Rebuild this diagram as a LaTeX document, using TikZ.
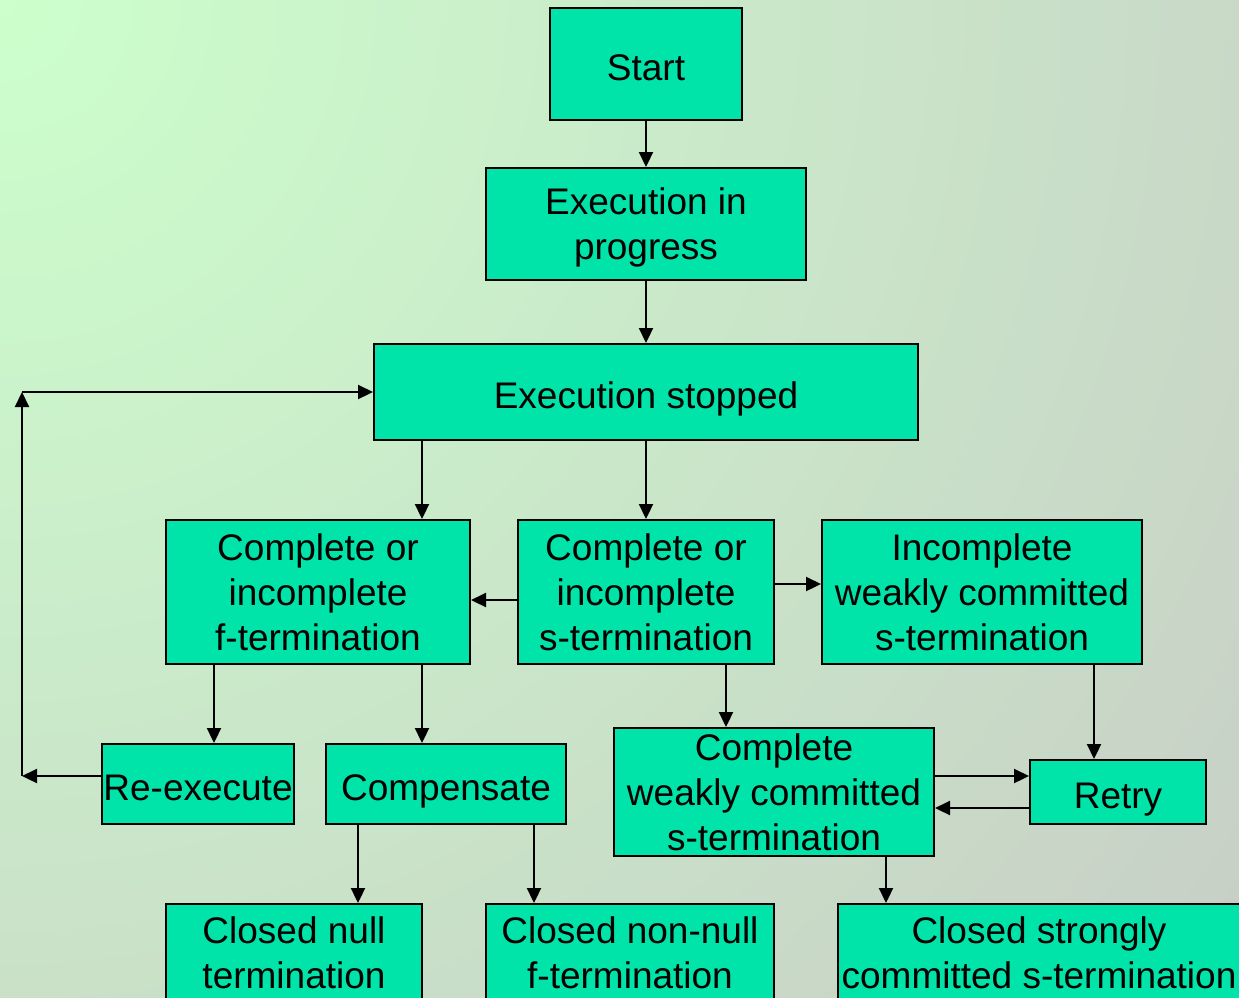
\documentclass[tikz,border=0pt]{standalone}
\usepackage{fontspec}
\setmainfont{Liberation Sans}
\usetikzlibrary{arrows.meta}

\definecolor{boxgreen}{HTML}{00E3A9}
\definecolor{bglight}{HTML}{CCFFCC}
\definecolor{bggray}{HTML}{C8CEC6}

\tikzset{
  state/.style={draw=black,line width=2pt,fill=boxgreen,inner sep=0pt,
    align=center,font=\fontsize{37}{45}\selectfont},
  oneline/.style={text height=33pt,text depth=0pt},
  link/.style={line width=2.2pt,-{Triangle[length=15pt,width=14pt]}}
}

\begin{document}
\begin{tikzpicture}[x=1pt,y=-1pt]

\useasboundingbox (0,0) rectangle (1239,997);
\begin{scope}
	\clip (0,0) rectangle (1239,997);
	\shade[inner color=bglight,outer color=bggray] (0,0) circle (1600);
\end{scope}

	% states
	\node[state,oneline,minimum width=192pt,minimum height=112pt] (start) at (646,64) {Start};
	\node[state,text depth=0pt,minimum width=320pt,minimum height=112pt] (run) at (646,224) {Execution in\\progress};
	\node[state,oneline,minimum width=544pt,minimum height=96pt] (stop) at (646,392) {Execution stopped};
	\node[state,minimum width=304pt,minimum height=144pt] (fterm) at (318,592) {Complete or\\incomplete\\f-termination};
	\node[state,minimum width=256pt,minimum height=144pt] (sterm) at (646,592) {Complete or\\incomplete\\s-termination};
	\node[state,minimum width=320pt,minimum height=144pt] (weak) at (982,592) {Incomplete\\weakly committed\\s-termination};
	\node[state,oneline,minimum width=192pt,minimum height=80pt] (reexec) at (198,784) {Re-execute};
	\node[state,oneline,minimum width=240pt,minimum height=80pt] (comp) at (446,784) {Compensate};
	\node[state,minimum width=320pt,minimum height=128pt] (cweak) at (774,792) {Complete\\weakly committed\\s-termination};
	\node[state,oneline,minimum width=176pt,minimum height=64pt] (retry) at (1118,792) {Retry};
	\node[state,minimum width=256pt,minimum height=98pt] (nullend) at (294,953) {Closed null\\termination};
	\node[state,minimum width=288pt,minimum height=98pt] (nonnull) at (630,953) {Closed non-null\\f-termination};
	\node[state,minimum width=402pt,minimum height=98pt] (strong) at (1039,953) {Closed strongly\\committed s-termination};

	\coordinate (loopa) at (22,776);
	\coordinate (loopb) at (22,392);

	% transitions
	\draw[link] (start.south) -- (run.north);
	\draw[link] (run.south) -- (stop.north);
	\draw[link] ([xshift=-224pt]stop.south) -- ([xshift=-224pt]stop.south |- fterm.north);
	\draw[link] (stop.south) -- (sterm.north);
	\draw[link] ([yshift=-8pt]sterm.west) -- ([yshift=-8pt]sterm.west -| fterm.east);
	\draw[link] ([yshift=8pt]sterm.east) -- ([yshift=8pt]sterm.east -| weak.west);
	\draw[link] ([xshift=80pt]sterm.south) -- ([xshift=80pt]sterm.south |- cweak.north);
	\draw[link] ([xshift=112pt]weak.south) -- ([xshift=112pt]weak.south |- retry.north);
	\draw[link] ([xshift=-104pt]fterm.south) -- ([xshift=-104pt]fterm.south |- reexec.north);
	\draw[link] ([xshift=104pt]fterm.south) -- ([xshift=104pt]fterm.south |- comp.north);
	\draw[link] ([yshift=8pt]reexec.west) -- (loopa);
	\draw[link] (loopa) -- (loopb);
	\draw[link] (loopb) -- (stop.west);
	\draw[link] ([yshift=16pt]cweak.east) -- ([yshift=16pt]cweak.east -| retry.west);
	\draw[link] ([yshift=-16pt]retry.west) -- ([yshift=-16pt]retry.west -| cweak.east);
	\draw[link] ([xshift=-88pt]comp.south) -- ([xshift=-88pt]comp.south |- nullend.north);
	\draw[link] ([xshift=88pt]comp.south) -- ([xshift=88pt]comp.south |- nonnull.north);
	\draw[link] ([xshift=112pt]cweak.south) -- ([xshift=112pt]cweak.south |- strong.north);

\end{tikzpicture}
\end{document}
